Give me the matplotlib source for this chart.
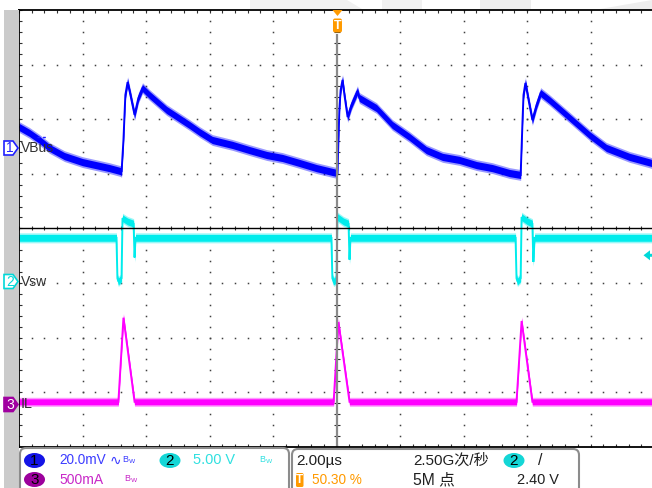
import numpy as np
import matplotlib
matplotlib.use('Agg')
import matplotlib.pyplot as plt
from matplotlib.patches import Polygon, FancyBboxPatch, Ellipse, Rectangle

# ---------------- data (time in microseconds) ----------------
# CH1 VBus ripple (AC coupled), mV
ch1_t = [-10.0, -9.67, -9.35, -9.04, -8.57, -8.00, -7.46, -7.15, -6.80, -6.77, -6.71, -6.65,
         -6.58, -6.49, -6.36, -6.24, -6.11, -5.89, -5.35, -4.63, -4.31, -3.91, -3.28, -2.74,
         -2.20, -1.70, -1.17, -0.63, -0.13, 0.03, 0.09, 0.13, 0.19, 0.25, 0.35, 0.47,
         0.66, 0.72, 0.88, 1.26, 1.76, 2.30, 2.83, 3.34, 3.87, 4.41, 4.91, 5.45,
         5.80, 5.86, 5.89, 5.95, 6.05, 6.17, 6.30, 6.43, 6.71, 7.43, 7.97, 8.50, 9.23, 9.92]
ch1_mv = [8.1, 5.9, 3.3, 0.4, -2.6, -4.8, -6.2, -7.0, -8.1, -8.4, 3.3, 19.8,
          24.5, 19.8, 12.5, 18.7, 22.3, 19.8, 14.3, 8.8, 6.2, 3.3, 1.5, -0.4,
          -2.2, -3.3, -5.1, -7.0, -8.4, -8.8, 14.3, 21.6, 25.3, 19.8, 11.7, 16.1,
          21.2, 18.7, 17.6, 15.0, 8.8, 4.4, -0.4, -2.9, -4.0, -5.9, -7.0, -8.8,
          -9.5, 10.6, 19.8, 24.2, 17.9, 10.6, 16.1, 20.5, 17.9, 10.6, 5.1, 0.4, -2.9, -5.1]

# CH2 Vsw, V
ch2_t = [-10.0, -6.93, -6.90, -6.87, -6.77, -6.74, -6.58, -6.39, -6.36, -6.33,
         -0.16, -0.13, -0.09, 0.0, 0.03, 0.22, 0.38, 0.41, 0.44,
         5.64, 5.67, 5.70, 5.80, 5.83, 6.02, 6.17, 6.20, 6.24, 10.0]
ch2_v = [4.0, 4.0, 0.3, 0.0, 0.3, 5.8, 5.5, 5.3, 2.2, 4.0,
         4.0, 0.3, 0.0, 0.2, 5.9, 5.5, 5.3, 2.0, 4.0,
         4.0, 0.3, 0.0, 0.3, 5.9, 5.5, 5.3, 1.8, 4.0, 4.0]

# CH3 IL, mA
ch3_t = [-10.0, -6.87, -6.71, -6.36, -0.09, 0.06, 0.41, 5.67, 5.83, 6.17, 10.0]
ch3_ma = [20, 20, 790, 20, 20, 750, 20, 20, 760, 20, 20]

# channel settings
ch1_scale, ch2_scale, ch3_scale = 20.0, 5.0, 500.0      # per division
ch1_off, ch2_off, ch3_off = 1.454, -0.973, -3.216         # marker position, div
trig_level = 2.40

# ---------------- figure ----------------
W, H = 652, 488
fig = plt.figure(figsize=(W / 100, H / 100), dpi=100)
fig.patch.set_facecolor('white')
FAM = ['Liberation Sans', 'Noto Sans CJK SC', 'DejaVu Sans']

X0, X1, Y0, Y1 = 19, 654, 10, 446.8
ax = fig.add_axes([X0 / W, 1 - Y1 / H, (X1 - X0) / W, (Y1 - Y0) / H])
ax.set_xlim(-10, 10)
ax.set_ylim(-4, 4)
ax.axis('off')
dx = 20 / (X1 - X0)   # us per px
dy = 8 / (Y1 - Y0)    # div per px

# grid dots
xs_minor = np.arange(-10, 10.001, 0.4)
ys_minor = np.arange(-4, 4.001, 0.2)
gx, gy = [], []
for xm in [-8, -6, -4, -2, 2, 4, 6, 8]:
    gx += [xm] * len(ys_minor); gy += list(ys_minor)
for ym in [-3, -2, -1, 1, 2, 3]:
    gx += list(xs_minor); gy += [ym] * len(xs_minor)
ax.plot(gx, gy, ls='none', marker='s', ms=1.1, mew=0, color='#404040', zorder=1)

# edge & centre ticks
tk = dict(color='#303030', lw=0.8, zorder=1)
ax.vlines(xs_minor, 4 - 3 * dy, 4, **tk)
ax.vlines(xs_minor, -4, -4 + 3 * dy, **tk)
ax.hlines(ys_minor, -10, -10 + 3 * dx, **tk)
ax.vlines(xs_minor, -2 * dy, 2 * dy, **tk)
ax.hlines(ys_minor, -3 * dx, 3 * dx, **tk)


def trace(t, v, scale, off, color, h_in, h_out):
    y = np.asarray(v, float) / scale + off
    ax.fill_between(t, y - h_out * dy, y + h_out * dy, color=color, alpha=0.4, lw=0, zorder=3)
    ax.fill_between(t, y - h_in * dy, y + h_in * dy, color=color, lw=0, zorder=3)
    ax.plot(t, y, color=color, lw=1.4, zorder=3, solid_joinstyle='miter')


trace(ch1_t, ch1_mv, ch1_scale, ch1_off, '#0000ff', 3.6, 5.4)
trace(ch2_t, ch2_v, ch2_scale, ch2_off, '#00ecec', 3.4, 5.0)
trace(ch3_t, ch3_ma, ch3_scale, ch3_off, '#ff00ff', 3.0, 4.5)

# centre lines and borders
ax.vlines(0, -4, 4 - 24 * dy, color='#8a8a8a', lw=1.6, zorder=4)
ax.axhline(0, color='black', lw=1.0, zorder=4)
ax.plot([-10, -10], [-4, 4], color='black', lw=1.3, clip_on=False, zorder=5)
ax.plot([-10, 10], [4, 4], color='black', lw=1.3, clip_on=False, zorder=5)
ax.plot([-10, 10], [-4, -4], color='black', lw=1.3, clip_on=False, zorder=5)

# ---------------- overlay (pixel coords) ----------------
ov = fig.add_axes([0, 0, 1, 1], facecolor='none')
ov.set_xlim(0, W)
ov.set_ylim(H, 0)
ov.axis('off')
renderer = fig.canvas.get_renderer()

# left grey strip
ov.add_patch(Rectangle((4, 10), 15, H - 10, color='#cbcbcb', lw=0, zorder=0))
# faint background at top
ov.add_patch(Polygon([(250, 0), (347, 0), (362, 9), (250, 9)], color='#f1f1f1', lw=0, zorder=0))
ov.add_patch(Rectangle((382, 0), 40, 9, color='#f1f1f1', lw=0, zorder=0))
ov.add_patch(Rectangle((480, 0), 51, 9, color='#eeeeee', lw=0, zorder=0))
ov.add_patch(Polygon([(600, 9), (652, 0), (652, 9)], color='#eeeeee', lw=0, zorder=0))


def txt(x, y, s, color, width=None, size=11.5, ha='left', z=7, **kw):
    t = ov.text(x, y, s, color=color, fontsize=size, family=FAM, ha=ha, va='center',
                zorder=z, **kw)
    if width is not None:
        w = t.get_window_extent(renderer).width
        if w > width:
            t.set_fontsize(size * width / w)
    return t


def ch_marker(yc, num, color, filled, label, lw_target):
    pts = [(4, yc - 7), (13, yc - 7), (18, yc), (13, yc + 7), (4, yc + 7)]
    ov.add_patch(Polygon(pts, closed=True, facecolor=color if filled else 'white',
                         edgecolor=color, lw=1.2, zorder=6))
    txt(10, yc + 0.5, num, 'white' if filled else color, size=10, ha='center')
    txt(21, yc, label, '#303030', width=lw_target, size=11)


ch_marker(148, '1', '#2020ff', False, 'VBus', 33)
ch_marker(281.5, '2', '#00d8d8', False, 'Vsw', 26)
ch_marker(404.5, '3', '#a000a0', True, 'IL', 12)
ov.plot([37, 47], [137, 137], color='#2020ff', lw=1, ls=(0, (2, 2)), zorder=6)

# trigger position marker
ov.add_patch(Polygon([(332.5, 10), (342.5, 10), (337.5, 16)], color='#ff9a00', lw=0, zorder=8))
ov.add_patch(FancyBboxPatch((333, 18.5), 9, 14, boxstyle='round,pad=0,rounding_size=2',
                            color='#ff9a00', lw=0, zorder=8))
txt(337.5, 26, 'T', 'white', size=9, ha='center', z=9, fontweight='bold')

# trigger level marker (ch2)
ty = 281.5 - trig_level / ch2_scale * ((Y1 - Y0) / 8)
ov.add_patch(Polygon([(643.5, ty), (650, ty - 5), (650, ty - 1.5), (653, ty - 1.5),
                      (653, ty + 1.5), (650, ty + 1.5), (650, ty + 5)],
                     color='#00d8d8', lw=0, zorder=8))

# status boxes
for (x, y, w) in [(20, 448, 269), (292, 449, 287)]:
    ov.add_patch(FancyBboxPatch((x, y), w, 60, boxstyle='round,pad=0,rounding_size=6',
                                facecolor='white', edgecolor='#8c8c8c', lw=1.5, zorder=5))


def badge(xc, yc, num, color):
    ov.add_patch(Ellipse((xc, yc), 21, 15, color=color, lw=0, zorder=6))
    txt(xc, yc + 0.5, num, 'black', size=11, ha='center')


def bw(x, y, color):
    txt(x, y, r'B$_{\mathrm{W}}$', color, size=6.5)


r1, r2 = 460.5, 479.5
badge(34.5, r1, '1', '#1414e6')
txt(59, r1, '20.0mV', '#3c3cff', width=47)
ov.text(110, r1, '\u223f', color='#3c3cff', fontsize=10, family='DejaVu Sans',
        ha='left', va='center', zorder=7)
bw(122, r1, '#3c3cff')
badge(170, r1, '2', '#14d6d6')
txt(193, r1, '5.00 V', '#30e0e0', width=42)
bw(259, r1, '#30e0e0')
badge(34.5, r2, '3', '#9c009c')
txt(59, r2, '500mA', '#c828c8', width=44)
bw(124, r2, '#c828c8')

txt(296, r1, '2.00\u00b5s', '#202020', width=46)
txt(413, r1, '2.50G次/秒', '#202020', width=76)
badge(514, r1, '2', '#14d6d6')
txt(538, r1, '/', '#202020')
ov.add_patch(FancyBboxPatch((296, 473), 7.5, 14, boxstyle='round,pad=0,rounding_size=1.5',
                            color='#ff9a00', lw=0, zorder=6))
txt(299.8, r2 + 0.5, 'T', 'white', size=8.5, ha='center', fontweight='bold')
txt(312, r2, '50.30 %', '#ff9a00', width=50)
txt(413, r2, '5M 点', '#202020', width=42)
txt(517, r2, f'{trig_level:.2f} V', '#202020', width=42)

fig.savefig('out.png', dpi=100)
